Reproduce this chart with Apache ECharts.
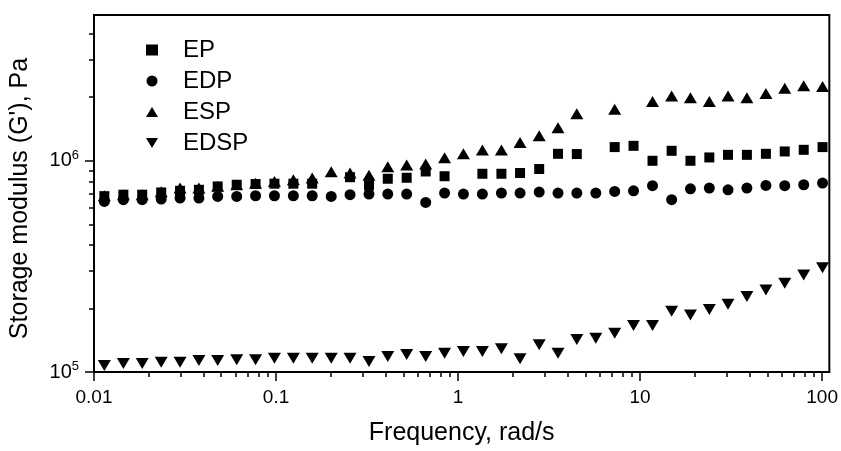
<!DOCTYPE html>
<html><head><meta charset="utf-8">
<script src="https://cdn.jsdelivr.net/npm/echarts@6/dist/echarts.min.js"></script>
<style>html,body{margin:0;padding:0;background:#fff}#c{width:841px;height:451px}</style>
</head><body><div id="c"></div>
<script>
// Frequency, rad/s
const freq = [0.0114, 0.0145, 0.0184, 0.0234, 0.0297, 0.0377, 0.0478, 0.0608, 0.0772, 0.098,
  0.1245, 0.158, 0.201, 0.255, 0.324, 0.411, 0.522, 0.664, 0.843, 1.07,
  1.36, 1.73, 2.19, 2.79, 3.54, 4.49, 5.71, 7.25, 9.2, 11.7,
  14.9, 18.9, 24, 30.4, 38.6, 49.1, 62.3, 79.2, 100.5];
// Storage modulus G', Pa
const EP = [6.80e5, 6.91e5, 6.91e5, 7.08e5, 7.21e5, 7.29e5, 7.56e5, 7.70e5, 7.76e5, 7.79e5,
  7.79e5, 7.79e5, null, 8.36e5, 7.66e5, 8.22e5, 8.31e5, 8.90e5, 8.45e5, null,
  8.68e5, 8.68e5, 8.75e5, 9.14e5, 1.079e6, 1.076e6, null, 1.161e6, 1.177e6, 1.0e6,
  1.115e6, 1.0e6, 1.037e6, 1.067e6, 1.067e6, 1.079e6, 1.107e6, 1.127e6, 1.161e6];
const EDP = [6.42e5, 6.54e5, 6.54e5, 6.59e5, 6.66e5, 6.66e5, 6.78e5, 6.78e5, 6.83e5, 6.83e5,
  6.83e5, 6.83e5, 6.78e5, 6.91e5, 6.96e5, 6.96e5, 6.96e5, 6.35e5, 7.03e5, 6.96e5,
  6.96e5, 7.03e5, 7.03e5, 7.11e5, 7.03e5, 7.03e5, 7.03e5, 7.16e5, 7.21e5, 7.62e5,
  6.54e5, 7.37e5, 7.43e5, 7.29e5, 7.43e5, 7.64e5, 7.62e5, 7.70e5, 7.84e5];
const ESP = [6.83e5, 6.91e5, 6.91e5, 7.14e5, 7.43e5, 7.43e5, 7.58e5, 7.70e5, 7.83e5, 7.98e5,
  8.13e5, 8.28e5, 8.87e5, 8.75e5, 8.54e5, 9.37e5, 9.54e5, 9.65e5, 1.033e6, 1.079e6,
  1.124e6, 1.124e6, 1.221e6, 1.313e6, 1.432e6, 1.668e6, null, 1.756e6, null, 1.907e6,
  2.029e6, 1.986e6, 1.907e6, 2.029e6, 1.986e6, 2.081e6, 2.207e6, 2.263e6, 2.246e6];
const EDSP = [1.073e5, 1.097e5, 1.097e5, 1.113e5, 1.113e5, 1.133e5, 1.133e5, 1.142e5, 1.142e5, 1.162e5,
  1.162e5, 1.162e5, 1.162e5, 1.162e5, 1.121e5, 1.184e5, 1.210e5, 1.184e5, 1.227e5, 1.250e5,
  1.250e5, 1.287e5, 1.155e5, 1.345e5, 1.227e5, 1.425e5, 1.445e5, 1.526e5, 1.659e5, 1.659e5,
  1.939e5, 1.864e5, 1.975e5, 2.092e5, 2.275e5, 2.447e5, 2.630e5, 2.881e5, 3.120e5];

const seriesNames = ['EP', 'EDP', 'ESP', 'EDSP'];
const xMajorTicks = [0.01, 0.1, 1, 10, 100];
const xTickLabels = ['0.01', '0.1', '1', '10', '100'];
const xMinorTicks = [0.02, 0.03, 0.04, 0.05, 0.06, 0.07, 0.08, 0.09,
  0.2, 0.3, 0.4, 0.5, 0.6, 0.7, 0.8, 0.9, 2, 3, 4, 5, 6, 7, 8, 9,
  20, 30, 40, 50, 60, 70, 80, 90];
const yMajorTicks = [1e5, 1e6];
const yTickExponents = ['5', '6'];
const yMinorTicks = [2e5, 3e5, 4e5, 5e5, 6e5, 7e5, 8e5, 9e5, 2e6, 3e6, 4e6];
const xRange = [0.01, 109.5];
const yRange = [1e5, 4.9e6];

const FONT = '"Liberation Sans", Arial, Helvetica, sans-serif';

function pairs(vals) {
  const out = [];
  vals.forEach((v, i) => { if (v != null) out.push([freq[i], v]); });
  return out;
}

const chart = echarts.init(document.getElementById('c'), null, { renderer: 'canvas' });

const baseX = {
  type: 'log', logBase: 10, min: xRange[0], max: xRange[1], gridIndex: 0, position: 'bottom',
  splitLine: { show: false }, minorTick: { show: false }, minorSplitLine: { show: false }
};
const baseY = {
  type: 'log', logBase: 10, min: yRange[0], max: yRange[1], gridIndex: 0, position: 'left',
  splitLine: { show: false }, minorTick: { show: false }, minorSplitLine: { show: false }
};

const symbols = ['rect', 'circle', 'path://M10,0L20,17L0,17Z', 'path://M0,0L20,0L10,17Z'];
const sizes = [[10, 10], 11, [13, 11], [13, 11]];

chart.setOption({
  animation: false,
  backgroundColor: '#fff',
  grid: { left: 94, right: 9, top: 15, bottom: 78, show: true, borderColor: '#000', borderWidth: 2, backgroundColor: 'transparent' },
  legend: {
    orient: 'vertical', left: 141, top: 33, itemWidth: 12, itemHeight: 11, itemGap: 7,
    data: seriesNames,
    textStyle: { fontFamily: FONT, fontSize: 24, color: '#000', padding: [0, 0, 0, 20] }
  },
  xAxis: [
    Object.assign({}, baseX, {
      name: 'Frequency, rad/s', nameLocation: 'middle', nameGap: 49,
      nameTextStyle: { fontFamily: FONT, fontSize: 25, color: '#000' },
      axisLine: { show: true, onZero: false, lineStyle: { color: '#000', width: 2 } },
      axisTick: { show: true, inside: false, length: 9, customValues: xMajorTicks, lineStyle: { color: '#000', width: 1.5 } },
      axisLabel: {
        show: true, margin: 16, customValues: xMajorTicks,
        fontFamily: FONT, fontSize: 19, color: '#000',
        formatter: (v) => { const i = xMajorTicks.findIndex(t => Math.abs(Math.log10(t) - Math.log10(v)) < 1e-6); return i >= 0 ? xTickLabels[i] : ''; }
      }
    }),
    Object.assign({}, baseX, {
      axisLine: { show: false },
      axisTick: { show: true, inside: false, length: 5, customValues: xMinorTicks, lineStyle: { color: '#000', width: 1.5 } },
      axisLabel: { show: false }
    })
  ],
  yAxis: [
    Object.assign({}, baseY, {
      name: "Storage modulus (G'), Pa", nameLocation: 'middle', nameGap: 61,
      nameTextStyle: { fontFamily: FONT, fontSize: 25, color: '#000', padding: [0, 10, 0, 0] },
      axisLine: { show: true, onZero: false, lineStyle: { color: '#000', width: 2 } },
      axisTick: { show: true, inside: false, length: 9, customValues: yMajorTicks, lineStyle: { color: '#000', width: 1.5 } },
      axisLabel: {
        show: true, margin: 15, customValues: yMajorTicks,
        formatter: (v) => { const i = yMajorTicks.findIndex(t => Math.abs(Math.log10(t) - Math.log10(v)) < 1e-6); return i >= 0 ? '{b|10}{s|' + yTickExponents[i] + '}' : ''; },
        rich: {
          b: { fontFamily: FONT, fontSize: 20, color: '#000', lineHeight: 24 },
          s: { fontFamily: FONT, fontSize: 13, color: '#000', lineHeight: 24, verticalAlign: 'top' }
        }
      }
    }),
    Object.assign({}, baseY, {
      axisLine: { show: false },
      axisTick: { show: true, inside: false, length: 5, customValues: yMinorTicks, lineStyle: { color: '#000', width: 1.5 } },
      axisLabel: { show: false }
    })
  ],
  series: [EP, EDP, ESP, EDSP].map((vals, i) => ({
    name: seriesNames[i], type: 'scatter', xAxisIndex: 0, yAxisIndex: 0,
    symbol: symbols[i], symbolSize: sizes[i],
    itemStyle: { color: '#000', opacity: 1 },
    emphasis: { disabled: true },
    data: pairs(vals)
  }))
});
</script></body></html>
